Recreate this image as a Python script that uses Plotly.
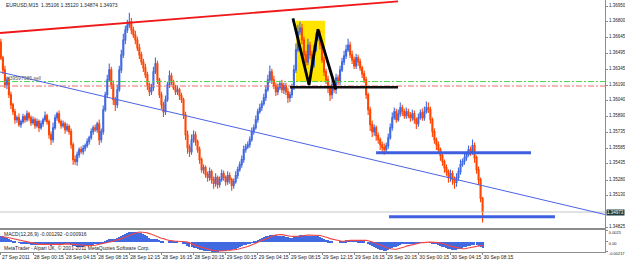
import pandas as pd
import plotly.graph_objects as go

# ---------------- data ----------------
header_text = "EURUSD,M15  1.35106 1.35120 1.34874 1.34973"
macd_text = "MACD(12,26,9) -0.001292 -0.000916"
copyright_text = "MetaTrader - Alpari UK, \u00a9 2001-2011 MetaQuotes Software Corp."
order_text = "#39597085 sell"

first_bar = "2011-09-27 20:15"
first_open = 1.36605

closes = [
    1.36452, 1.36337, 1.36194, 1.36241, 1.36098, 1.36002, 1.35935, 1.35859, 1.35878, 1.35811,
    1.35840, 1.35887, 1.35859, 1.35916, 1.35878, 1.35830, 1.35859, 1.35801, 1.35840, 1.35782,
    1.35820, 1.35859, 1.35897, 1.35840, 1.35715, 1.35667, 1.35782, 1.35878, 1.35916, 1.35840,
    1.35801, 1.35820, 1.35763, 1.35792, 1.35744, 1.35619, 1.35476, 1.35457, 1.35524, 1.35572,
    1.35552, 1.35585, 1.35610, 1.35648, 1.35686, 1.35744, 1.35782, 1.35763, 1.35820, 1.35667,
    1.35744, 1.35954, 1.36098, 1.36241, 1.36337, 1.36194, 1.36050, 1.36002, 1.36146, 1.36337,
    1.36481, 1.36624, 1.36720, 1.36768, 1.36796, 1.36720, 1.36672, 1.36624, 1.36548, 1.36481,
    1.36414, 1.36356, 1.36289, 1.36194, 1.36127, 1.36165, 1.36318, 1.36395, 1.36241, 1.36098,
    1.36002, 1.35935, 1.36050, 1.36194, 1.36280, 1.36222, 1.36165, 1.36127, 1.36146, 1.36088,
    1.36050, 1.35906, 1.35715, 1.35591, 1.35552, 1.35667, 1.35715, 1.35648, 1.35572, 1.35476,
    1.35380, 1.35399, 1.35332, 1.35304, 1.35361, 1.35284, 1.35246, 1.35304, 1.35237, 1.35284,
    1.35342, 1.35304, 1.35265, 1.35323, 1.35284, 1.35227, 1.35265, 1.35323, 1.35380, 1.35428,
    1.35476, 1.35572, 1.35598, 1.35619, 1.35667, 1.35744, 1.35782, 1.35859, 1.35935, 1.35973,
    1.36012, 1.36069, 1.36146, 1.36241, 1.36318, 1.36241, 1.36184, 1.36127, 1.36165, 1.36203,
    1.36146, 1.36184, 1.36127, 1.36069, 1.36098, 1.36165, 1.36337, 1.36529, 1.36701, 1.36739,
    1.36624, 1.36481, 1.36414, 1.36576, 1.36481, 1.36385, 1.36529, 1.36643, 1.36672, 1.36576,
    1.36433, 1.36318, 1.36241, 1.36165, 1.36098, 1.36194, 1.36146, 1.36261, 1.36222, 1.36337,
    1.36414, 1.36471, 1.36529, 1.36576, 1.36481, 1.36433, 1.36375, 1.36452, 1.36414, 1.36356,
    1.36299, 1.36241, 1.36098, 1.35954, 1.35811, 1.35744, 1.35782, 1.35706, 1.35667, 1.35619,
    1.35591, 1.35572, 1.35610, 1.35686, 1.35782, 1.35878, 1.35935, 1.35859, 1.35916, 1.35973,
    1.35935, 1.35897, 1.35935, 1.35902, 1.35878, 1.35916, 1.35859, 1.35820, 1.35878, 1.35926,
    1.35878, 1.35935, 1.35973, 1.35954, 1.35859, 1.35744, 1.35667, 1.35619, 1.35572, 1.35514,
    1.35457, 1.35399, 1.35361, 1.35304, 1.35342, 1.35284, 1.35256, 1.35304, 1.35361, 1.35428,
    1.35457, 1.35495, 1.35524, 1.35572, 1.35552, 1.35610, 1.35495, 1.35380, 1.35284, 1.35106,
    1.34973,
]

upper_wick_pips = [
    3, 2, 4, 3, 2, 3, 2, 3, 2, 4,
    2, 3, 2, 3, 2, 2, 3, 2, 3, 2,
    3, 2, 4, 2, 2, 3, 5, 3, 2, 3,
    2, 3, 2, 3, 2, 3, 2, 4, 3, 2,
    3, 3, 2, 3, 2, 3, 2, 3, 2, 4,
    3, 4, 3, 5, 6, 3, 4, 3, 5, 4,
    5, 6, 4, 5, 9, 4, 3, 4, 3, 4,
    3, 3, 4, 3, 2, 4, 5, 6, 3, 2,
    3, 3, 4, 3, 5, 3, 2, 3, 4, 2,
    3, 2, 3, 4, 3, 5, 4, 3, 2, 3,
    2, 3, 2, 3, 4, 2, 3, 4, 2, 3,
    4, 3, 2, 4, 3, 2, 3, 4, 3, 3,
    4, 4, 3, 3, 3, 4, 3, 4, 3, 4,
    3, 4, 4, 5, 6, 3, 4, 3, 4, 3,
    4, 3, 3, 4, 3, 4, 5, 6, 7, 6,
    4, 3, 4, 6, 3, 4, 5, 5, 6, 4,
    3, 3, 3, 4, 3, 5, 3, 4, 3, 4,
    4, 5, 5, 6, 3, 4, 3, 4, 3, 3,
    2, 3, 3, 2, 3, 4, 3, 2, 3, 2,
    3, 4, 3, 4, 4, 5, 4, 3, 4, 5,
    3, 3, 4, 3, 3, 4, 3, 2, 4, 3,
    4, 5, 6, 5, 3, 2, 3, 2, 3, 2,
    3, 2, 3, 2, 4, 3, 3, 4, 4, 5,
    3, 4, 3, 4, 3, 6, 3, 2, 3, 2,
    1,
]

lower_wick_pips = [
    2, 4, 3, 4, 3, 4, 3, 4, 3, 2,
    3, 2, 3, 2, 3, 3, 2, 3, 2, 4,
    2, 3, 2, 3, 4, 5, 3, 2, 3, 2,
    3, 2, 4, 2, 3, 4, 5, 3, 4, 3,
    2, 3, 3, 2, 3, 2, 3, 2, 3, 5,
    3, 3, 2, 3, 2, 4, 5, 6, 3, 2,
    3, 3, 4, 3, 3, 4, 3, 4, 3, 4,
    3, 4, 3, 5, 4, 3, 3, 2, 4, 3,
    4, 5, 3, 2, 3, 3, 2, 3, 3, 4,
    3, 4, 5, 6, 5, 3, 3, 4, 3, 4,
    3, 4, 3, 4, 3, 4, 5, 3, 4, 3,
    2, 3, 4, 3, 4, 5, 3, 2, 3, 2,
    3, 3, 3, 2, 3, 2, 3, 2, 3, 2,
    3, 2, 3, 2, 3, 4, 3, 4, 3, 2,
    3, 4, 3, 5, 4, 3, 2, 3, 2, 3,
    4, 5, 4, 3, 4, 5, 3, 2, 3, 4,
    3, 4, 4, 5, 6, 4, 3, 4, 3, 3,
    2, 3, 3, 2, 3, 4, 3, 3, 4, 3,
    4, 3, 4, 5, 6, 5, 4, 5, 4, 5,
    6, 5, 4, 3, 2, 3, 2, 3, 2, 3,
    4, 3, 3, 3, 4, 3, 4, 5, 3, 2,
    3, 3, 2, 3, 4, 5, 4, 5, 4, 5,
    4, 5, 4, 5, 4, 5, 6, 4, 3, 3,
    2, 3, 3, 2, 4, 3, 5, 4, 5, 4,
    10,
]

# MACD(12,26,9) main line (histogram) and signal, in units of 0.0001
macd_main_e4 = [
    14, 13, 11, 9, 7, 5, 3, 1, 0, -1,
    -2, -3, -4, -5, -5, -6, -6, -6, -6, -7,
    -7, -7, -6, -6, -7, -8, -7, -6, -5, -5,
    -5, -5, -5, -5, -5, -6, -8, -9, -10, -10,
    -10, -10, -9, -9, -8, -7, -6, -5, -4, -4,
    -4, -2, 1, 4, 7, 8, 8, 8, 9, 11,
    13, 16, 19, 21, 23, 24, 24, 24, 23, 22,
    20, 18, 16, 13, 10, 8, 8, 8, 7, 5,
    3, 1, 0, 0, 1, 1, 1, 1, 1, 0,
    0, -2, -5, -8, -11, -12, -13, -14, -15, -17,
    -18, -19, -20, -21, -21, -22, -22, -22, -22, -21,
    -21, -20, -19, -18, -17, -17, -16, -15, -13, -11,
    -9, -7, -6, -5, -3, -1, 1, 3, 5, 7,
    9, 11, 13, 15, 17, 17, 17, 16, 15, 15,
    14, 13, 12, 11, 10, 10, 11, 13, 15, 17,
    17, 16, 15, 15, 14, 13, 13, 13, 13, 12,
    10, 8, 6, 4, 2, 1, 0, 0, 0, 1,
    2, 3, 4, 5, 5, 5, 5, 5, 4, 4,
    3, 2, 0, -3, -6, -9, -11, -13, -15, -17,
    -18, -19, -19, -18, -16, -14, -12, -10, -8, -6,
    -5, -4, -3, -2, -2, -2, -2, -2, -1, -1,
    -1, 0, 0, 0, -1, -2, -4, -5, -7, -9,
    -11, -12, -14, -15, -16, -17, -17, -17, -16, -15,
    -13, -12, -10, -9, -8, -6, -6, -7, -8, -10,
    -13,
]
macd_signal_e4 = [
    11, 11, 10, 10, 9, 8, 7, 6, 5, 4,
    2, 1, 0, -1, -2, -3, -4, -5, -5, -6,
    -6, -6, -6, -6, -6, -7, -7, -7, -7, -6,
    -6, -6, -5, -5, -5, -5, -6, -6, -7, -7,
    -8, -8, -8, -9, -9, -9, -8, -8, -7, -6,
    -5, -5, -4, -3, -2, -1, 1, 3, 4, 5,
    7, 9, 10, 12, 14, 16, 18, 20, 21, 22,
    22, 22, 21, 20, 19, 17, 15, 13, 11, 10,
    8, 7, 5, 4, 3, 2, 1, 1, 1, 1,
    1, 0, 0, -1, -3, -4, -6, -8, -10, -11,
    -13, -14, -15, -17, -18, -19, -20, -21, -21, -21,
    -21, -21, -21, -21, -20, -19, -19, -18, -17, -16,
    -15, -13, -12, -11, -9, -7, -5, -3, -1, 1,
    3, 5, 7, 9, 11, 13, 14, 15, 16, 16,
    16, 15, 15, 14, 13, 12, 12, 12, 12, 12,
    13, 14, 15, 15, 15, 15, 15, 14, 14, 14,
    13, 12, 11, 9, 7, 6, 4, 3, 2, 1,
    1, 1, 2, 2, 3, 3, 3, 4, 4, 4,
    4, 4, 3, 2, 1, 0, -2, -4, -6, -8,
    -10, -12, -14, -15, -16, -17, -17, -17, -16, -15,
    -13, -12, -10, -9, -8, -7, -5, -4, -3, -2,
    -2, -2, -1, -1, -1, -1, -1, -1, -2, -3,
    -4, -5, -7, -8, -10, -11, -13, -14, -15, -15,
    -16, -16, -15, -15, -14, -12, -11, -10, -9, -9,
    -9,
]

price_ticks = [1.36950, 1.36800, 1.36645, 1.36495, 1.36345, 1.36190, 1.36040,
               1.35890, 1.35735, 1.35585, 1.35435, 1.35280, 1.35130, 1.34825]
price_tick_labels = ["1.36950", "1.36800", "1.36645", "1.36495", "1.36345", "1.36190", "1.36040",
                     "1.35890", "1.35735", "1.35585", "1.35435", "1.35280", "1.35130", "1.34825"]
macd_ticks = [0.0025, 0.0, -0.00217]
macd_tick_labels = ["0.0025", "0.00", "-0.00217"]
time_ticks = ["2011-09-27 20:15", "2011-09-28 00:15", "2011-09-28 04:15", "2011-09-28 08:15",
              "2011-09-28 12:15", "2011-09-28 16:15", "2011-09-28 20:15", "2011-09-29 00:15",
              "2011-09-29 04:15", "2011-09-29 08:15", "2011-09-29 12:15", "2011-09-29 16:15",
              "2011-09-29 20:15", "2011-09-30 00:15", "2011-09-30 04:15", "2011-09-30 08:15"]
time_tick_labels = ["27 Sep 2011", "28 Sep 00:15", "28 Sep 04:15", "28 Sep 08:15",
                    "28 Sep 12:15", "28 Sep 16:15", "28 Sep 20:15", "29 Sep 00:15",
                    "29 Sep 04:15", "29 Sep 08:15", "29 Sep 12:15", "29 Sep 16:15",
                    "29 Sep 20:15", "30 Sep 00:15", "30 Sep 04:15", "30 Sep 08:15"]

# drawn objects (time, price)
red_trend_t = ["2011-09-27 20:08:24", "2011-09-29 21:43"]
red_trend_p = [1.36691, 1.36995]
blue_trend_t = ["2011-09-27 20:08:24", "2011-09-30 23:30"]
blue_trend_p = [1.36317, 1.34949]
order_price = 1.36225
stop_price = 1.36182
bid_price = 1.34973
box_t = ["2011-09-29 09:00", "2011-09-29 12:37"]
box_p = [1.36223, 1.36809]
m_pattern_t = ["2011-09-29 08:38", "2011-09-29 10:38", "2011-09-29 11:45", "2011-09-29 13:59"]
m_pattern_p = [1.36832, 1.36192, 1.36726, 1.36151]
neck_t = ["2011-09-29 08:16", "2011-09-29 21:43"]
neck_p = 1.36170
support1_t = ["2011-09-29 18:59", "2011-09-30 14:17"]
support1_p = 1.35542
support2_t = ["2011-09-29 20:36", "2011-09-30 17:16"]
support2_p = 1.34928

x_range = ["2011-09-27 20:08:24", "2011-09-30 23:30"]
price_range = [1.348195, 1.370076]
macd_range = [-0.002341, 0.002773]

# ---------------- build ----------------
n = len(closes)
assert n == len(upper_wick_pips) == len(lower_wick_pips) == len(macd_main_e4) == len(macd_signal_e4)
times = pd.date_range(first_bar, periods=n, freq="15min")
opens = [first_open] + closes[:-1]
highs = [max(o, c) + u * 0.0001 for o, c, u in zip(opens, closes, upper_wick_pips)]
lows = [min(o, c) - d * 0.0001 for o, c, d in zip(opens, closes, lower_wick_pips)]
macd_main = [v * 0.0001 for v in macd_main_e4]
macd_signal = [v * 0.0001 for v in macd_signal_e4]

BULL = "#4169E1"
BEAR = "#FF4500"
FONT = "Liberation Sans, Arial, sans-serif"
TXT = "#222222"
AX = "#8c8c8c"
TICK_FS = 4.5
MACD_FS = 4.0

fig = go.Figure()

fig.add_trace(go.Candlestick(
    x=times, open=opens, high=highs, low=lows, close=closes,
    increasing=dict(line=dict(color=BULL, width=1.1), fillcolor=BULL),
    decreasing=dict(line=dict(color=BEAR, width=1.1), fillcolor=BEAR),
    whiskerwidth=0, xaxis="x", yaxis="y", showlegend=False, hoverinfo="skip"))

def hline(t, p, color, width, dash="solid"):
    fig.add_trace(go.Scatter(x=t, y=[p, p], mode="lines", xaxis="x", yaxis="y",
                             line=dict(color=color, width=width, dash=dash),
                             showlegend=False, hoverinfo="skip"))

hline(x_range, bid_price, "#c4c4c4", 1)
hline(x_range, order_price, "#4fd34f", 1, "6px,2px,2px,2px")
hline(x_range, stop_price, "#f06a6a", 1, "6px,2px,2px,2px")

fig.add_trace(go.Scatter(x=red_trend_t, y=red_trend_p, mode="lines", xaxis="x", yaxis="y",
                         line=dict(color="#f01818", width=1.8), showlegend=False, hoverinfo="skip"))
fig.add_trace(go.Scatter(x=blue_trend_t, y=blue_trend_p, mode="lines", xaxis="x", yaxis="y",
                         line=dict(color="#4c63e6", width=1), showlegend=False, hoverinfo="skip"))
hline(neck_t, neck_p, "#111111", 2.6)
fig.add_trace(go.Scatter(x=m_pattern_t, y=m_pattern_p, mode="lines", xaxis="x", yaxis="y",
                         line=dict(color="#000000", width=2.8), showlegend=False, hoverinfo="skip"))
hline(support1_t, support1_p, "#3e5fe0", 3)
hline(support2_t, support2_p, "#3e5fe0", 3)

# MACD window
fig.add_trace(go.Bar(x=times, y=macd_main, xaxis="x2", yaxis="y2",
                     marker=dict(color=BULL, line=dict(width=0)),
                     width=15 * 60 * 1000 * 0.55, showlegend=False, hoverinfo="skip"))
fig.add_trace(go.Scatter(x=times, y=macd_signal, mode="lines", xaxis="x2", yaxis="y2",
                         line=dict(color="#f24646", width=1.1), showlegend=False, hoverinfo="skip"))

PLOT_H = 252.0
main_dom = [1 - 228 / PLOT_H, 1]
macd_dom = [0, 22.5 / PLOT_H]

fig.update_layout(
    width=625, height=261,
    margin=dict(l=0, r=20, t=0, b=9, pad=0, autoexpand=False),
    paper_bgcolor="white", plot_bgcolor="white",
    font=dict(family=FONT, size=5, color=TXT),
    showlegend=False, bargap=0,
    xaxis=dict(type="date", range=x_range, domain=[0, 1], anchor="y",
               showticklabels=False, showgrid=False, zeroline=False,
               showline=True, linecolor=AX, linewidth=2, ticks="",
               automargin=False, rangeslider=dict(visible=False)),
    yaxis=dict(domain=main_dom, range=price_range, side="right", anchor="x",
               tickmode="array", tickvals=price_ticks, ticktext=price_tick_labels,
               ticks="outside", ticklen=2, tickcolor=AX, tickwidth=1,
               ticklabelshift=-1,
               tickfont=dict(family=FONT, size=TICK_FS, color=TXT), automargin=False,
               showgrid=False, zeroline=False, showline=True, linecolor=AX,
               linewidth=1, mirror=True),
    xaxis2=dict(type="date", range=x_range, domain=[0, 1], anchor="y2", matches="x",
                tickmode="array", tickvals=time_ticks, ticktext=time_tick_labels,
                ticks="outside", ticklen=2, tickcolor=AX, tickwidth=1, tickangle=0,
                ticklabelposition="outside right", automargin=False,
                tickfont=dict(family=FONT, size=5, color=TXT),
                showgrid=False, zeroline=False, showline=True, linecolor=AX, linewidth=1),
    yaxis2=dict(domain=macd_dom, range=macd_range, side="right", anchor="x2",
                tickmode="array", tickvals=macd_ticks, ticktext=macd_tick_labels,
                ticks="outside", ticklen=2, tickcolor=AX, tickwidth=1, automargin=False,
                ticklabelshift=2,
                tickfont=dict(family=FONT, size=MACD_FS, color=TXT),
                showgrid=False, zeroline=False, showline=True, linecolor=AX,
                linewidth=1, mirror=True),
    shapes=[dict(type="rect", xref="x", yref="y", x0=box_t[0], x1=box_t[1],
                 y0=box_p[0], y1=box_p[1], fillcolor="#ffe400",
                 line=dict(width=0), layer="below")],
    annotations=[
        dict(text=header_text, xref="paper", yref="paper", x=0.006, y=1 - 4.5 / PLOT_H,
             xanchor="left", yanchor="middle", showarrow=False,
             font=dict(family=FONT, size=5, color=TXT)),
        dict(text=order_text, xref="paper", yref="y", x=0.008, y=order_price,
             xanchor="left", yanchor="bottom", showarrow=False, yshift=-1,
             font=dict(family=FONT, size=5, color="#555555")),
        dict(text=macd_text, xref="paper", yref="paper", x=0.004, y=1 - 234 / PLOT_H,
             xanchor="left", yanchor="middle", showarrow=False,
             font=dict(family=FONT, size=5, color=TXT)),
        dict(text=copyright_text, xref="paper", yref="paper", x=0.004, y=1 - 248 / PLOT_H,
             xanchor="left", yanchor="middle", showarrow=False,
             font=dict(family=FONT, size=5, color=TXT)),
        dict(text=f"{bid_price:.5f}", xref="paper", yref="y", x=1.0, y=bid_price,
             xanchor="left", yanchor="middle", showarrow=False, xshift=1,
             bgcolor="#1f3b3b", borderpad=0,
             font=dict(family=FONT, size=TICK_FS, color="#ffffff")),
    ],
)

fig.write_html("out.html")
